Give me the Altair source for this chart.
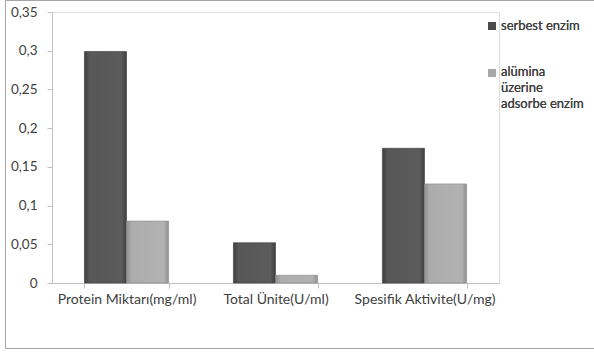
import altair as alt
import pandas as pd

categories = ["Protein Miktarı(mg/ml)", "Total Ünite(U/ml)", "Spesifik Aktivite(U/mg)"]
series = ["serbest enzim", "alümina üzerine adsorbe enzim"]
serbest = [0.299, 0.052, 0.174]
alumina = [0.080, 0.010, 0.128]
y_ticks = [0, 0.05, 0.1, 0.15, 0.2, 0.25, 0.3, 0.35]
legend_lines = [["serbest enzim"], ["alümina", "üzerine", "adsorbe enzim"]]

rows = []
for c, a, b in zip(categories, serbest, alumina):
    rows.append({"cat": c, "series": series[0], "value": a})
    rows.append({"cat": c, "series": series[1], "value": b})
df = pd.DataFrame(rows)

FONT = "Lato"
TXT = "#404040"

x_enc = alt.X("cat:N", sort=categories, title=None,
              scale=alt.Scale(paddingInner=0.435, paddingOuter=0.2175),
              axis=alt.Axis(labelAngle=0, labelFont=FONT, labelFontSize=14, labelColor=TXT,
                            domainColor="#bfbfbf", tickColor="#bfbfbf", tickSize=5,
                            tickBand="extent", labelPadding=4, grid=False))
y_enc = alt.Y("value:Q", title=None,
              scale=alt.Scale(domain=[0, 0.35], nice=False),
              axis=alt.Axis(values=y_ticks, labelExpr="replace(format(datum.value, '~g'), '.', ',')",
                            labelFont=FONT, labelFontSize=13.5, labelColor=TXT,
                            domainColor="#bfbfbf", tickColor="#bfbfbf", tickSize=5,
                            labelPadding=10, grid=False))
xoff = alt.XOffset("series:N", scale=alt.Scale(domain=series, paddingInner=0, paddingOuter=0))

grad_dark = alt.Gradient(gradient="linear", x1=0, x2=1, y1=0, y2=0, stops=[
    alt.GradientStop(color="#3e3e3e", offset=0),
    alt.GradientStop(color="#575757", offset=0.12),
    alt.GradientStop(color="#5b5b5b", offset=0.88),
    alt.GradientStop(color="#3e3e3e", offset=1)])
grad_light = alt.Gradient(gradient="linear", x1=0, x2=1, y1=0, y2=0, stops=[
    alt.GradientStop(color="#909090", offset=0),
    alt.GradientStop(color="#acacac", offset=0.12),
    alt.GradientStop(color="#b2b2b2", offset=0.88),
    alt.GradientStop(color="#909090", offset=1)])

base = alt.Chart(df)
bars_dark = base.transform_filter(alt.datum.series == series[0]).mark_bar(
    color=grad_dark, stroke="#3a3a3a", strokeWidth=0.6).encode(x=x_enc, y=y_enc, xOffset=xoff)
bars_light = base.transform_filter(alt.datum.series == series[1]).mark_bar(
    color=grad_light, stroke="#8a8a8a", strokeWidth=0.6).encode(x=x_enc, y=y_enc, xOffset=xoff)

frame = alt.Chart(pd.DataFrame({"a": [0]})).mark_rect(
    fill=None, stroke="#a6a6a6", strokeWidth=1).encode(
    x=alt.value(-46.5), x2=alt.value(560), y=alt.value(-11.5), y2=alt.value(336.5))

leg_df = pd.DataFrame({"s": series})
sq1 = alt.Chart(leg_df).mark_square(size=64, color="#4a4a4a", opacity=1).encode(
    x=alt.value(440), y=alt.value(14))
sq2 = alt.Chart(leg_df).mark_square(size=64, color="#a8a8a8", opacity=1).encode(
    x=alt.value(440), y=alt.value(61))
t1 = alt.Chart(leg_df).mark_text(text=legend_lines[0], font=FONT, fontSize=13, color=TXT,
                                 align="left", baseline="middle").encode(
    x=alt.value(449), y=alt.value(14))
t2 = alt.Chart(leg_df).mark_text(text=legend_lines[1], font=FONT, fontSize=13, color=TXT,
                                 align="left", baseline="top", lineHeight=16).encode(
    x=alt.value(449), y=alt.value(54))

chart = alt.layer(frame, bars_dark, bars_light, sq1, sq2, t1, t2).properties(
    width=447, height=271,
    autosize=alt.AutoSizeParams(type="none"),
    padding={"left": 52, "top": 12, "right": 95, "bottom": 69},
).configure_view(stroke=None).configure(background="white")

chart.save("out.html", embed_options={"renderer": "svg", "actions": False})
